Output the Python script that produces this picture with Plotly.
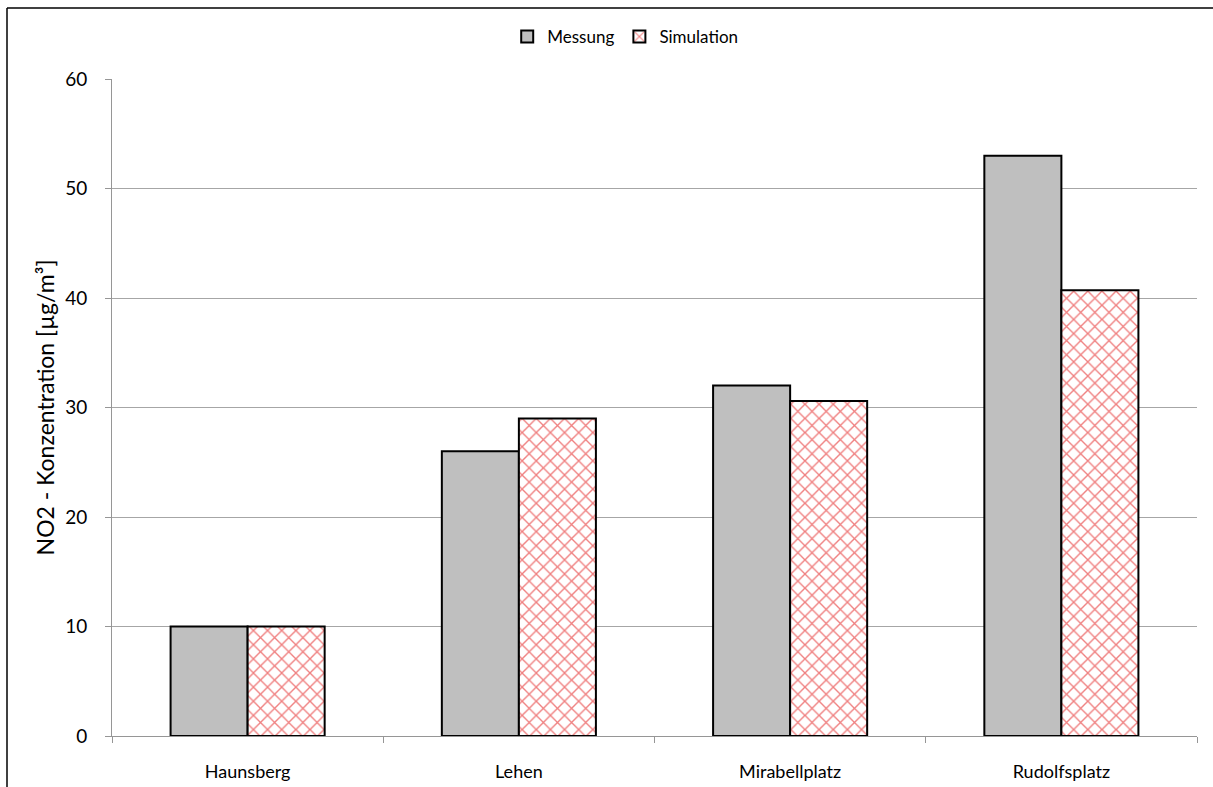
import plotly.graph_objects as go

stations = ["Haunsberg", "Lehen", "Mirabellplatz", "Rudolfsplatz"]
messung = [10, 26, 32, 53]
simulation = [10, 29, 30.6, 40.7]
y_ticks = [0, 10, 20, 30, 40, 50, 60]

FONT = "Lato, 'Open Sans', sans-serif"

fig = go.Figure()
fig.add_trace(go.Bar(
    x=stations, y=messung, name="Messung",
    marker=dict(color="#bfbfbf", line=dict(color="black", width=2)),
))
fig.add_trace(go.Bar(
    x=stations, y=simulation, name="Simulation",
    marker=dict(
        color="white",
        line=dict(color="black", width=2),
        pattern=dict(shape="x", fgcolor="#e00000", bgcolor="white",
                     size=10, solidity=0.25),
    ),
))

W, H = 1213, 787
ml, mr, mt, mb = 112, 16, 79, 51
pw, ph = W - ml - mr, H - mt - mb

def px_x(px):
    return (px - ml) / pw

def px_y(py):
    return 1 - (py - mt) / ph

fig.update_layout(
    width=W, height=H,
    margin=dict(l=ml, r=mr, t=mt, b=mb, pad=0),
    paper_bgcolor="white", plot_bgcolor="white",
    barmode="group", bargap=0.432, bargroupgap=0,
    font=dict(family=FONT, size=17, color="black"),
    legend=dict(orientation="h", x=0.473, xanchor="center", y=px_y(37),
                yanchor="middle", font=dict(size=17), itemwidth=30,
                traceorder="normal"),
    xaxis=dict(
        showgrid=False, showline=True, linecolor="#969696", linewidth=1,
        ticks="outside", tickson="boundaries", ticklen=6, tickcolor="#969696",
        tickfont=dict(size=18), ticklabelstandoff=19, automargin=False,
    ),
    yaxis=dict(
        range=[0, 60], tickvals=y_ticks, showgrid=True, gridcolor="#a6a6a6",
        gridwidth=1, showline=True, linecolor="#969696", linewidth=1,
        ticks="outside", ticklen=6, tickcolor="#969696",
        tickfont=dict(size=19), ticklabelstandoff=14, zeroline=False,
        automargin=False,
        title=dict(text="NO2 - Konzentration [µg/m³]", font=dict(size=23),
                   standoff=4),
    ),
    shapes=[
        dict(type="line", xref="paper", yref="paper",
             x0=px_x(7), x1=px_x(1220), y0=px_y(8), y1=px_y(8),
             line=dict(color="black", width=1.5)),
        dict(type="line", xref="paper", yref="paper",
             x0=px_x(7), x1=px_x(7), y0=px_y(8), y1=px_y(795),
             line=dict(color="black", width=1.5)),
    ],
)

fig.write_html("out.html")
